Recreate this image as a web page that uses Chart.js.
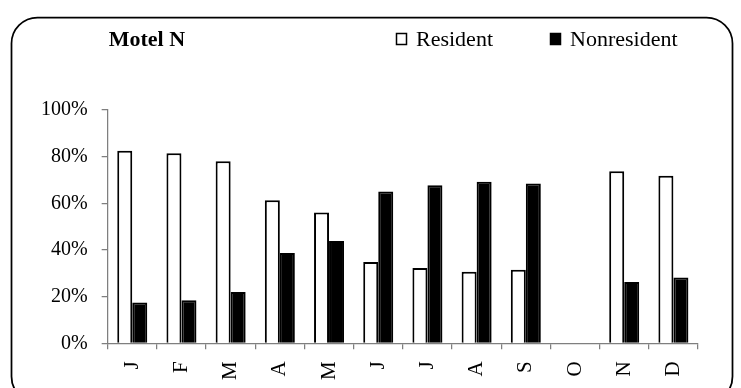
<!DOCTYPE html>
<html>
<head>
<meta charset="utf-8">
<title>Motel N</title>
<script src="https://cdn.jsdelivr.net/npm/chart.js@4/dist/chart.umd.min.js"></script>
<style>
  html, body { margin: 0; padding: 0; background: #fff; }
  #wrap { width: 741px; height: 388px; }
</style>
</head>
<body>
<div id="wrap"><canvas id="c" width="741" height="388"></canvas></div>
<script>
// Share of guests by month (percent)
const months = ['J', 'F', 'M', 'A', 'M', 'J', 'J', 'A', 'S', 'O', 'N', 'D'];
const resident = [82.5, 81.5, 78.0, 61.3, 56.1, 34.9, 32.3, 30.7, 31.5, null, 73.7, 71.8];
const nonresident = [17.5, 18.5, 22.0, 38.7, 43.9, 65.1, 67.7, 69.3, 68.5, null, 26.3, 28.2];
const yTicks = [0, 20, 40, 60, 80, 100];
const chartTitle = 'Motel N';
const seriesNames = ['Resident', 'Nonresident'];

const SERIF = '"Liberation Serif", "Times New Roman", serif';
const AXIS_GREY = '#7f7f7f';

// White page, rounded frame, title and legend row
const framePlugin = {
  id: 'frame',
  beforeDraw(chart) {
    const ctx = chart.ctx;
    ctx.save();
    ctx.fillStyle = '#fff';
    ctx.fillRect(0, 0, chart.width, chart.height);
    ctx.restore();
  },
  afterDraw(chart, args, opts) {
    const ctx = chart.ctx;
    ctx.save();
    // rounded border around the whole chart
    ctx.strokeStyle = '#000';
    ctx.lineWidth = 1.75;
    ctx.beginPath();
    ctx.roundRect(11.5, 17.5, 721, 385, 26);
    ctx.stroke();

    // title
    ctx.fillStyle = '#000';
    ctx.textBaseline = 'alphabetic';
    ctx.textAlign = 'left';
    ctx.font = 'bold 22px ' + SERIF;
    ctx.fillText(chartTitle, chart.chartArea.left + 1, opts.baseline);

    // legend entries, styled from the datasets
    ctx.font = '22px ' + SERIF;
    chart.data.datasets.forEach((ds, i) => {
      const x = opts.itemX[i];
      const bx = x + 0.5, by = opts.baseline - 12.5;
      ctx.fillStyle = ds.backgroundColor;
      ctx.fillRect(bx, by, 10, 11);
      ctx.strokeStyle = ds.borderColor;
      ctx.lineWidth = 1.5;
      ctx.strokeRect(bx, by, 10, 11);
      ctx.fillStyle = '#000';
      ctx.fillText(ds.label, x + 20, opts.baseline);
    });
    ctx.restore();
  }
};

new Chart(document.getElementById('c'), {
  type: 'bar',
  data: {
    labels: months,
    datasets: [
      {
        label: seriesNames[0],
        data: resident,
        backgroundColor: '#ffffff',
        borderColor: '#000000',
        borderWidth: 2,
        categoryPercentage: 0.61,
        barPercentage: 1.0
      },
      {
        label: seriesNames[1],
        data: nonresident,
        backgroundColor: '#000000',
        borderColor: '#000000',
        borderWidth: 2,
        categoryPercentage: 0.61,
        barPercentage: 1.0
      }
    ]
  },
  options: {
    responsive: false,
    animation: false,
    devicePixelRatio: 1,
    layout: { padding: { left: 27, right: 43, top: 110, bottom: -4 } },
    plugins: {
      legend: { display: false },
      tooltip: { enabled: false },
      frame: { baseline: 46, itemX: [396, 550] }
    },
    scales: {
      x: {
        grid: {
          display: true,
          drawOnChartArea: false,
          drawTicks: true,
          tickLength: 6,
          color: AXIS_GREY,
          lineWidth: 1.25,
          offset: true
        },
        border: { display: true, color: AXIS_GREY, width: 1.25 },
        ticks: {
          autoSkip: false,
          minRotation: 90,
          maxRotation: 90,
          padding: 12,
          color: '#000',
          font: { family: SERIF, size: 21 }
        }
      },
      y: {
        min: yTicks[0],
        max: yTicks[yTicks.length - 1],
        afterBuildTicks(scale) {
          scale.ticks = yTicks.map(v => ({ value: v }));
        },
        grid: {
          display: true,
          drawOnChartArea: false,
          drawTicks: true,
          tickLength: 6,
          color: AXIS_GREY,
          lineWidth: 1.25
        },
        border: { display: true, color: AXIS_GREY, width: 1.25 },
        ticks: {
          padding: 14,
          color: '#000',
          font: { family: SERIF, size: 20 },
          callback: v => v + '%'
        }
      }
    }
  },
  plugins: [framePlugin]
});
</script>
</body>
</html>
